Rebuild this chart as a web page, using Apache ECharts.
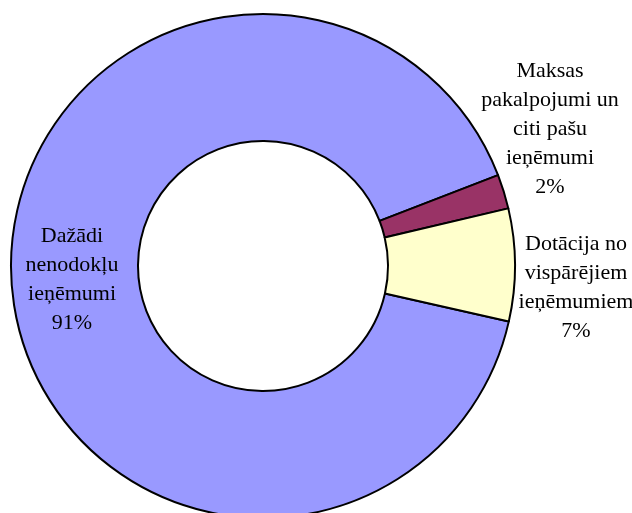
<!DOCTYPE html>
<html>
<head>
<meta charset="utf-8">
<script src="https://cdn.jsdelivr.net/npm/echarts@6/dist/echarts.min.js"></script>
<style>
  html, body { margin: 0; padding: 0; background: #fff; }
  #chart { width: 632px; height: 513px; }
</style>
</head>
<body>
<div id="chart"></div>
<script>
// categories (line breaks as in the original labels)
var categories = [
    'Dažādi\nnenodokļu\nieņēmumi',
    'Maksas\npakalpojumi un\nciti pašu\nieņēmumi',
    'Dotācija no\nvispārējiem\nieņēmumiem'
];
// shares, percent
var values = [90.6, 2.2, 7.2];
var colors = ['#9999FF', '#993366', '#FFFFCC'];

// where the outside labels sit (centre of the text block)
var labelSpots = { 1: [550, 129], 2: [576, 288] };

var myChart = echarts.init(document.getElementById('chart'));

var data = categories.map(function (name, i) {
    var item = {
        name: name,
        value: values[i],
        itemStyle: { color: colors[i] }
    };
    if (i === 0) {
        item.label = { position: 'inside' };
    } else {
        item.label = { position: 'outside' };
        item.labelLine = { show: false };
    }
    return item;
});

var option = {
    animation: false,
    backgroundColor: '#fff',
    series: [{
        type: 'pie',
        center: [263, 266],
        radius: [125, 252],
        startAngle: -12.7,
        clockwise: true,
        avoidLabelOverlap: false,
        itemStyle: {
            borderColor: '#000',
            borderWidth: 2
        },
        label: {
            show: true,
            color: '#000',
            fontFamily: 'Liberation Serif',
            fontSize: 22,
            lineHeight: 29,
            align: 'center',
            formatter: function (p) {
                return p.name + '\n' + Math.round(p.percent) + '%';
            }
        },
        labelLayout: function (params) {
            var spot = labelSpots[params.dataIndex];
            if (!spot) return {};
            return { x: spot[0], y: spot[1], align: 'center', verticalAlign: 'middle' };
        },
        emphasis: { disabled: true },
        data: data
    }]
};

myChart.setOption(option);
</script>
</body>
</html>
